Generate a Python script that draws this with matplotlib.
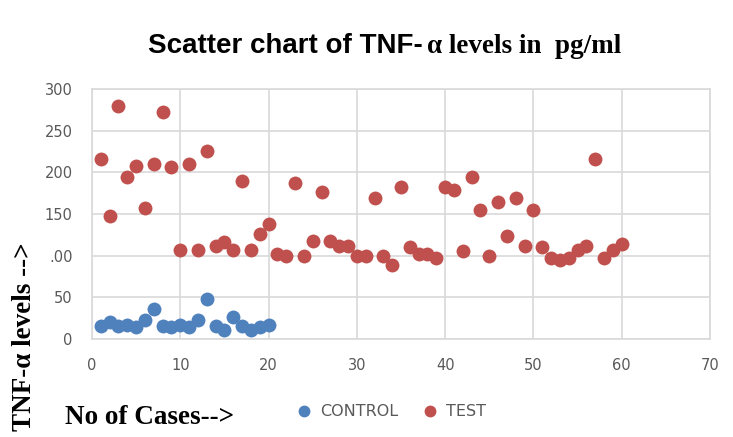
import numpy as np
import matplotlib.pyplot as plt

# Data
control_cases = list(range(1, 21))
control_levels = [16, 20, 16, 17, 14, 23, 36, 16, 14, 17,
                  14, 23, 48, 16, 11, 26, 16, 11, 14, 17]

test_cases = list(range(1, 61))
test_levels = [216, 147, 280, 195, 208, 157, 210, 272, 207, 107,
               210, 107, 226, 112, 116, 107, 190, 107, 126, 138,
               102, 100, 187, 100, 118, 177, 118, 112, 112, 100,
               100, 169, 100, 89, 183, 110, 102, 102, 97, 183,
               179, 105, 195, 155, 100, 165, 124, 169, 112, 155,
               110, 97, 95, 97, 107, 112, 216, 97, 107, 114]

x_ticks = [0, 10, 20, 30, 40, 50, 60, 70]
y_ticks = [0, 50, 100, 150, 200, 250, 300]
y_tick_labels = ["0", "50", ".00", "150", "200", "250", "300"]

blue = "#4F81BD"
red = "#C0504D"
grid_col = "#D9D9D9"
tick_col = "#595959"

W, H = 733, 437
fig = plt.figure(figsize=(7.33, 4.37), dpi=100)
ax = fig.add_axes([0.1255, 0.2243, 0.8431, 0.572])

ax.scatter(control_cases, control_levels, s=100, color=blue, label="CONTROL", zorder=3, linewidths=0)
ax.scatter(test_cases, test_levels, s=100, color=red, label="TEST", zorder=3, linewidths=0)

ax.set_xlim(0, 70)
ax.set_ylim(0, 300)
ax.set_xticks(x_ticks)
ax.set_yticks(y_ticks)
ax.set_yticklabels(y_tick_labels)
ax.grid(True, color=grid_col, linewidth=1.2, zorder=0)
ax.tick_params(length=0, labelsize=10.5, labelcolor=tick_col)
ax.tick_params(axis="y", pad=14)
ax.tick_params(axis="x", pad=14)
for s in ax.spines.values():
    s.set_color(grid_col)
    s.set_linewidth(1.2)

# title: sans part + serif part
fig.text(423 / W, 1 - 53 / H, "Scatter chart of TNF-",
         ha="right", va="baseline", fontsize=20, fontweight="bold",
         family="Liberation Sans")
fig.text(427 / W, 1 - 53 / H, "\u03b1 levels in  pg/ml", ha="left", va="baseline",
         fontsize=19.5, fontweight="bold", family="Liberation Serif")

# axis labels
fig.text(25 / W, 1 - 337 / H, "TNF-\u03b1 levels -->", rotation=90,
         ha="center", va="center", fontsize=19.5, fontweight="bold",
         family="Liberation Serif")
fig.text(65 / W, 1 - 418 / H, "No of Cases-->", ha="left", va="center",
         fontsize=19.5, fontweight="bold", family="Liberation Serif")

fig.legend(loc="center", bbox_to_anchor=(387 / W, 1 - 411 / H), ncol=2,
           frameon=False, fontsize=11.5, labelcolor=tick_col, handletextpad=0.0,
           columnspacing=1.0, markerscale=0.85)

fig.savefig("out.png", dpi=100)
